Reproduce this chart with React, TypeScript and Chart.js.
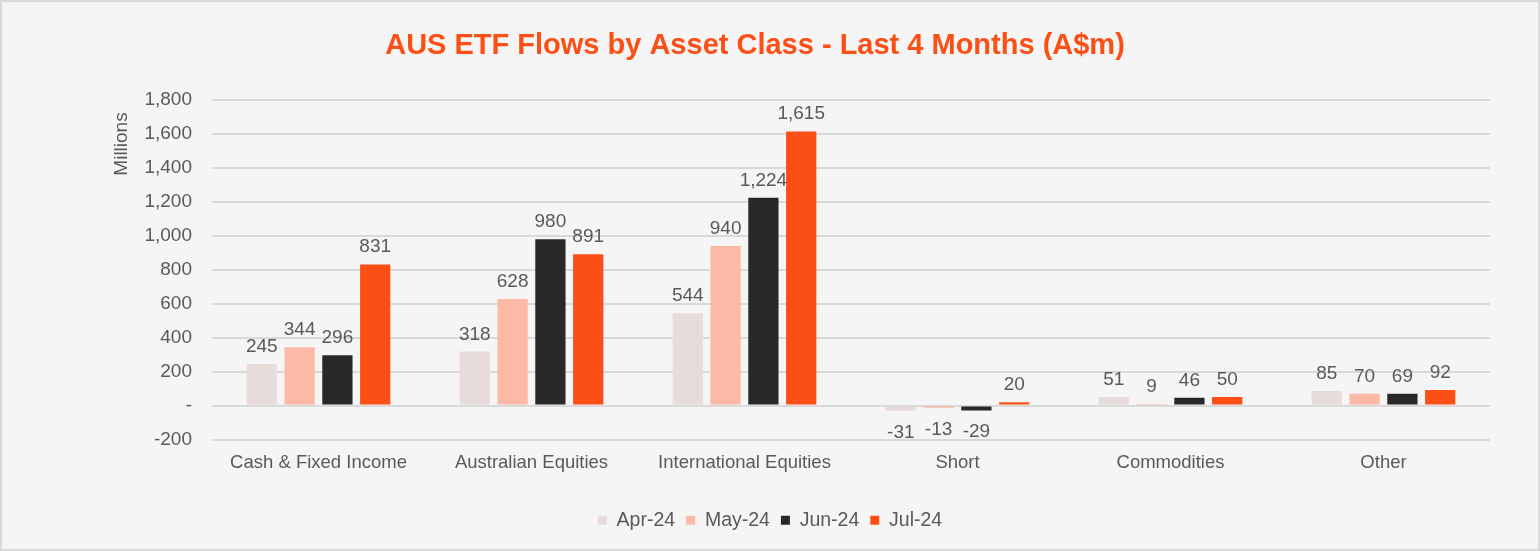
import React, { useEffect, useRef } from "react";
import { Chart, registerables } from "chart.js";

Chart.register(...registerables);

const categories = ["Cash & Fixed Income", "Australian Equities", "International Equities", "Short", "Commodities", "Other"];
const seriesNames = ["Apr-24", "May-24", "Jun-24", "Jul-24"];
const apr24 = [245, 318, 544, -31, 51, 85];
const may24 = [344, 628, 940, -13, 9, 70];
const jun24 = [296, 980, 1224, -29, 46, 69];
const jul24 = [831, 891, 1615, 20, 50, 92];
const seriesColors = ["#E8DCDA", "#FBB9A6", "#282828", "#FC4F16"];
const yTicks = [-200, 0, 200, 400, 600, 800, 1000, 1200, 1400, 1600, 1800];
const titleText = "AUS ETF Flows by Asset Class - Last 4 Months (A$m)";

const FONT = "'Liberation Sans', Arial, sans-serif";
const TEXT = "#595959";

const fmt = (v: number) => (v === 0 ? "-" : v.toLocaleString("en-US"));

const dataLabels = {
  id: "dataLabels",
  afterDatasetsDraw(chart: any) {
    const ctx = chart.ctx;
    ctx.save();
    ctx.font = `19px ${FONT}`;
    ctx.fillStyle = TEXT;
    ctx.textAlign = "center";
    ctx.textBaseline = "alphabetic";
    chart.data.datasets.forEach((ds: any, i: number) => {
      const meta = chart.getDatasetMeta(i);
      meta.data.forEach((bar: any, j: number) => {
        const v = ds.data[j] as number;
        if (v >= 0) {
          ctx.fillText(fmt(v), bar.x, Math.min(bar.y, bar.base) - 12);
        } else {
          ctx.fillText(fmt(v), bar.x, Math.max(bar.y, bar.base) + 27);
        }
      });
    });
    // "Millions" display-units label at top of the value axis
    const yScale = chart.scales.y;
    ctx.save();
    ctx.translate(120, yScale.top + 44);
    ctx.rotate(-Math.PI / 2);
    ctx.textAlign = "center";
    ctx.textBaseline = "middle";
    ctx.font = `19px ${FONT}`;
    ctx.fillText("Millions", 0, 0);
    ctx.restore();
    // Chart title
    ctx.font = `bold 29px ${FONT}`;
    ctx.fillStyle = "#FC4F16";
    ctx.textAlign = "center";
    ctx.textBaseline = "middle";
    ctx.fillText(titleText, chart.width / 2 - 15, 44);
    ctx.restore();
  },
};

export default function App() {
  const ref = useRef<HTMLCanvasElement>(null);
  useEffect(() => {
    document.body.style.margin = "0";
    const all = [apr24, may24, jun24, jul24];
    const chart = new Chart(ref.current!, {
      type: "bar",
      data: {
        labels: categories,
        datasets: seriesNames.map((n, i) => ({
          label: n,
          data: all[i],
          backgroundColor: seriesColors[i],
          borderWidth: 0,
          categoryPercentage: 0.71,
          barPercentage: 0.8,
        })),
      },
      options: {
        animation: false,
        responsive: false,
        maintainAspectRatio: false,
        layout: { padding: { left: 0, right: 0, top: 98, bottom: 9 } },
        plugins: {
          title: { display: false },
          legend: {
            position: "bottom",
            labels: {
              color: TEXT,
              font: { family: FONT, size: 19.5 },
              usePointStyle: true,
              pointStyle: "rect",
              boxWidth: 9,
              boxHeight: 9,
              padding: 11,
            },
          },
          tooltip: { enabled: false },
        },
        scales: {
          x: {
            grid: { display: false },
            border: { display: false },
            ticks: { color: TEXT, font: { family: FONT, size: 18.5 }, padding: 4 },
            afterFit: (axis: any) => {
              axis.height = 60;
            },
          },
          y: {
            min: -200,
            max: 1800,
            afterBuildTicks: (axis: any) => {
              axis.ticks = yTicks.map((v) => ({ value: v }));
            },
            afterFit: (axis: any) => {
              axis.width = 210;
            },
            grid: { color: "#D9D9D9", lineWidth: 2, drawTicks: false },
            border: { display: false },
            ticks: {
              color: TEXT,
              font: { family: FONT, size: 19 },
              padding: 20,
              callback: (v: any) => fmt(Number(v)),
            },
          },
          yRight: {
            position: "right",
            display: true,
            grid: { display: false, drawTicks: false },
            border: { display: false },
            ticks: { display: false },
            afterFit: (axis: any) => {
              axis.width = 48;
            },
          },
        },
      },
      plugins: [dataLabels],
    });
    return () => chart.destroy();
  }, []);
  return (
    <div
      style={{
        position: "absolute",
        left: 0,
        top: 0,
        width: 1540,
        height: 551,
        boxSizing: "border-box",
        border: "2px solid #D9D9D9",
        background: "#F5F5F5",
      }}
    >
      <canvas ref={ref} width={1536} height={547} style={{ display: "block" }} />
    </div>
  );
}
